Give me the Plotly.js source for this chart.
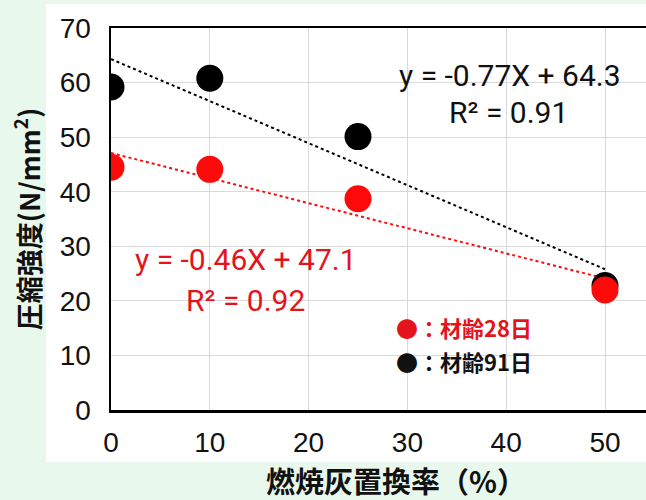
<!DOCTYPE html>
<html>
<head>
<meta charset="utf-8">
<script src="https://cdn.plot.ly/plotly-3.0.1.min.js"></script>
<style>html,body{margin:0;padding:0;background:#e8f8ec;}#chart{width:646px;height:500px;}</style>
</head>
<body>
<div id="chart"></div>
<script>
// replacement rate (%)
const replacementRate = [0, 10, 25, 50];
// compressive strength (N/mm2)
const age28 = [44.5, 44.1, 38.7, 22.0];
const age91 = [59.2, 60.8, 50.1, 22.8];
// trend line endpoints
const trendX = [0, 50];
const trend28 = [47.1, 24.1];
const trend91 = [64.3, 25.8];
const xTicks = [0, 10, 20, 30, 40, 50];
const yTicks = [0, 10, 20, 30, 40, 50, 60, 70];
const xTitle = '燃焼灰置換率（%）';
const yTitle = '圧縮強度(N/mm<sup>2</sup>)';
const eq91 = ['y = -0.77X + 64.3', 'R² = 0.91'];
const eq28 = ['y = -0.46X + 47.1', 'R² = 0.92'];
const legendLabels = ['●：材齢28日', '●：材齢91日'];

const RED = '#ff0a0a';
const RED_TXT = '#e3141c';
const numFont = 'Liberation Sans, Arial, sans-serif';
const eqFont = 'Roboto, Liberation Sans, Arial, sans-serif';
const jpFont = 'Noto Sans CJK JP, Noto Sans, sans-serif';

const traces = [
  {x: trendX, y: trend91, mode: 'lines', line: {color: '#000', width: 2, dash: 'dot'}, hoverinfo: 'skip'},
  {x: trendX, y: trend28, mode: 'lines', line: {color: RED, width: 2, dash: 'dot'}, hoverinfo: 'skip'},
  {x: replacementRate, y: age91, mode: 'markers', marker: {color: '#000', size: 27}},
  {x: replacementRate, y: age28, mode: 'markers', marker: {color: RED, size: 27}}
];

function px(x) { return (x - 111) / 535; }
function py(y) { return (410 - y) / 382; }

const layout = {
  width: 646, height: 500,
  paper_bgcolor: '#e8f8ec',
  plot_bgcolor: '#ffffff',
  showlegend: false,
  margin: {l: 111, r: 0, t: 28, b: 90},
  xaxis: {
    range: [0, 54.15], tickvals: xTicks, ticktext: xTicks.map(String),
    showgrid: true, gridcolor: '#d9d9d9', gridwidth: 1,
    zeroline: false, showline: true, linecolor: '#000', linewidth: 2.5, mirror: true,
    ticks: '', ticklen: 0, ticklabelstandoff: 6,
    tickfont: {family: numFont, size: 28, color: '#111'}
  },
  yaxis: {
    range: [0, 70], tickvals: yTicks, ticktext: yTicks.map(String),
    showgrid: true, gridcolor: '#d9d9d9', gridwidth: 1,
    zeroline: false, showline: true, linecolor: '#000', linewidth: 2.5,
    ticks: '', ticklen: 0, ticklabelstandoff: 12,
    tickfont: {family: numFont, size: 28, color: '#111'},
    title: {text: yTitle, font: {family: jpFont, size: 27, color: '#111', weight: 'bold'}, standoff: 12}
  },
  shapes: [
    {type: 'rect', xref: 'paper', yref: 'paper', x0: -0.1215, x1: 1.01, y0: -0.136, y1: 1.063,
     fillcolor: '#ffffff', line: {width: 0}, layer: 'below'}
  ],
  annotations: [
    {xref: 'paper', yref: 'paper', x: px(396), y: py(480), xanchor: 'center', yanchor: 'middle', text: '<b>' + xTitle + '</b>', showarrow: false,
     font: {family: jpFont, size: 29, color: '#111'}},
    {xref: 'paper', yref: 'paper', x: px(510), y: py(75), xanchor: 'center', yanchor: 'middle', text: eq91[0], showarrow: false,
     font: {family: eqFont, size: 30, color: '#111'}},
    {xref: 'paper', yref: 'paper', x: px(508), y: py(112), xanchor: 'center', yanchor: 'middle', text: eq91[1], showarrow: false,
     font: {family: eqFont, size: 30, color: '#111'}},
    {xref: 'paper', yref: 'paper', x: px(246), y: py(259), xanchor: 'center', yanchor: 'middle', text: eq28[0], showarrow: false,
     font: {family: eqFont, size: 30, color: RED_TXT}},
    {xref: 'paper', yref: 'paper', x: px(245), y: py(300), xanchor: 'center', yanchor: 'middle', text: eq28[1], showarrow: false,
     font: {family: eqFont, size: 30, color: RED_TXT}},
    {xref: 'paper', yref: 'paper', x: px(394), y: py(327), xanchor: 'left', yanchor: 'middle', text: '<b>' + legendLabels[0] + '</b>', showarrow: false,
     font: {family: jpFont, size: 22, color: RED_TXT}},
    {xref: 'paper', yref: 'paper', x: px(394), y: py(361), xanchor: 'left', yanchor: 'middle', text: '<b>' + legendLabels[1] + '</b>', showarrow: false,
     font: {family: jpFont, size: 22, color: '#111'}}
  ]
};

Plotly.newPlot('chart', traces, layout, {displayModeBar: false, staticPlot: true});
</script>
</body>
</html>
